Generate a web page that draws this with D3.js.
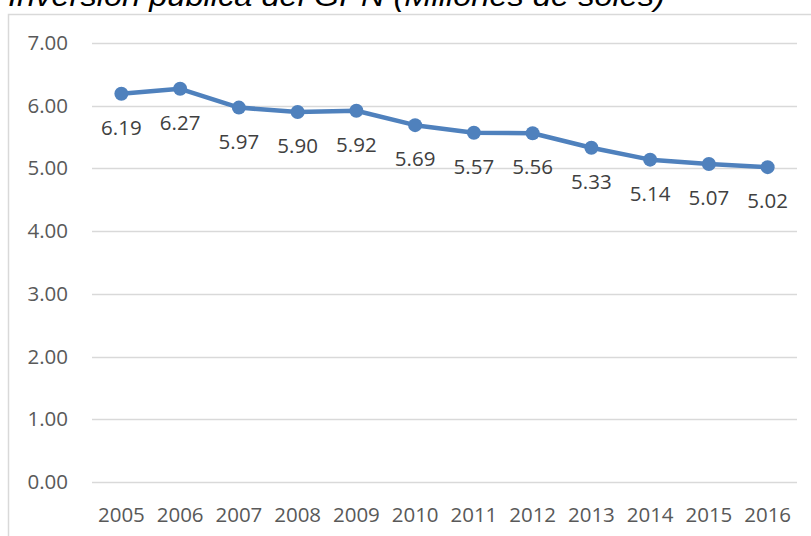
<!DOCTYPE html>
<html>
<head>
<meta charset="utf-8">
<script src="https://cdn.jsdelivr.net/npm/d3@7"></script>
<style>
  html, body { margin: 0; padding: 0; background: #fff; }
  svg { display: block; }
</style>
</head>
<body>
<svg id="chart" width="811" height="536"></svg>
<script>
// Inversión pública anual, millones de soles
const years = ["2005","2006","2007","2008","2009","2010","2011","2012","2013","2014","2015","2016"];
const values = [6.19, 6.27, 5.97, 5.90, 5.92, 5.69, 5.57, 5.56, 5.33, 5.14, 5.07, 5.02];
const yTicks = [0, 1, 2, 3, 4, 5, 6, 7];
const titleText = "Inversión pública del GPN  (Millones de soles)";

const svg = d3.select("#chart");
const font = "'Open Sans', sans-serif";
const fs = 20.5;

// chart area frame
svg.append("rect")
  .attr("x", 8.5).attr("y", 14.5)
  .attr("width", 820).attr("height", 540)
  .attr("fill", "#fff")
  .attr("stroke", "#d9d9d9").attr("stroke-width", 1.5);

// title (partly above the top edge)
svg.append("text")
  .attr("x", 8).attr("y", 6)
  .attr("font-family", "'Liberation Sans', Arial, sans-serif")
  .attr("font-style", "italic")
  .attr("font-size", 29)
  .attr("textLength", 657)
  .attr("lengthAdjust", "spacingAndGlyphs")
  .attr("fill", "#000")
  .text(titleText);

const x = d3.scaleBand().domain(years).range([92, 797]);
const y = d3.scaleLinear().domain([0, 7]).range([482, 43]);

// gridlines
svg.append("g")
  .selectAll("line")
  .data(yTicks)
  .join("line")
  .attr("x1", 92).attr("x2", 797)
  .attr("y1", d => Math.round(y(d)) + 0.5)
  .attr("y2", d => Math.round(y(d)) + 0.5)
  .attr("stroke", "#d9d9d9").attr("stroke-width", 1.5);

// y axis labels
const yAxis = d3.axisLeft(y).tickValues(yTicks).tickFormat(d3.format(".2f")).tickSize(0).tickPadding(0);
const gy = svg.append("g").attr("transform", "translate(68,0)").call(yAxis);
gy.select(".domain").remove();
gy.selectAll("text")
  .attr("font-family", font).attr("font-size", fs).attr("fill", "#595959");

// x axis labels
const xAxis = d3.axisBottom(x).tickSize(0).tickPadding(0);
const gx = svg.append("g").attr("transform", "translate(0,522)").call(xAxis);
gx.select(".domain").remove();
gx.selectAll("text")
  .attr("font-family", font).attr("font-size", fs).attr("fill", "#595959")
  .attr("dy", 0);

const cx = d => x(d) + x.bandwidth() / 2;
const blue = "#4f81bd";

// series line
svg.append("path")
  .datum(values)
  .attr("fill", "none")
  .attr("stroke", blue)
  .attr("stroke-width", 4.5)
  .attr("stroke-linejoin", "round")
  .attr("d", d3.line().x((d, i) => cx(years[i])).y(d => y(d)));

// markers
svg.append("g")
  .selectAll("circle")
  .data(values)
  .join("circle")
  .attr("cx", (d, i) => cx(years[i]))
  .attr("cy", d => y(d))
  .attr("r", 7)
  .attr("fill", blue);

// data labels below points
svg.append("g")
  .selectAll("text")
  .data(values)
  .join("text")
  .attr("x", (d, i) => cx(years[i]))
  .attr("y", d => y(d) + 41)
  .attr("text-anchor", "middle")
  .attr("font-family", font).attr("font-size", fs).attr("fill", "#404040")
  .text(d => d3.format(".2f")(d));
</script>
</body>
</html>
